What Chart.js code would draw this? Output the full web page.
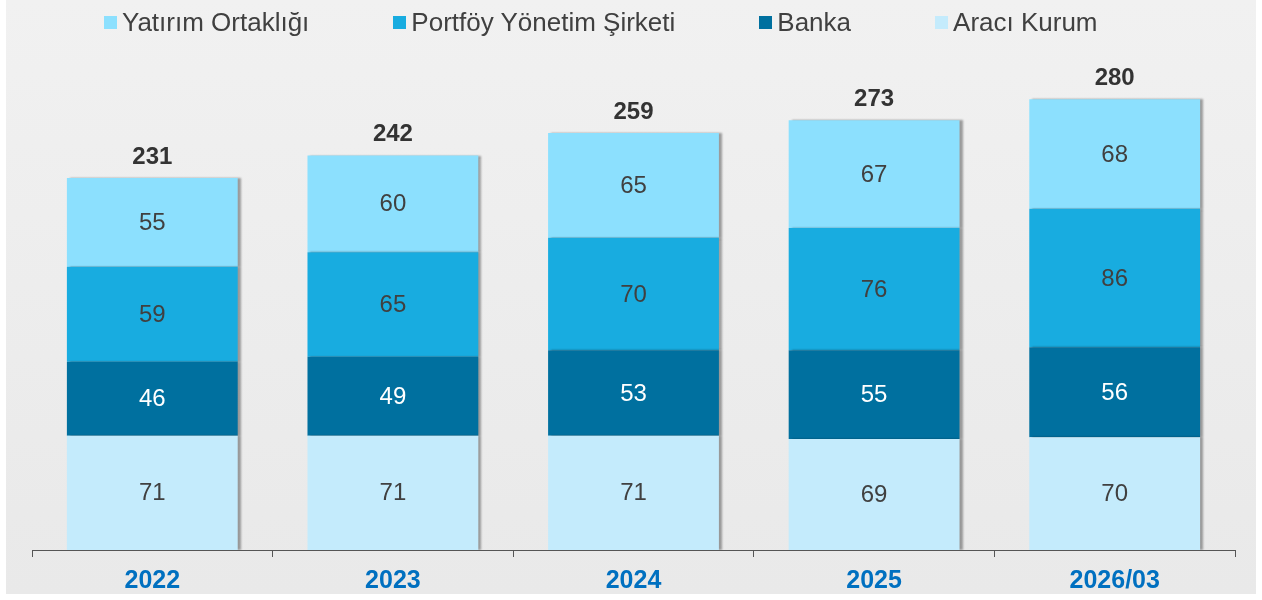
<!DOCTYPE html>
<html>
<head>
<meta charset="utf-8">
<script src="https://cdn.jsdelivr.net/npm/chart.js@4/dist/chart.umd.min.js"></script>
<style>
  html, body { margin: 0; padding: 0; background: #ffffff; }
  #wrap { position: relative; width: 1262px; height: 600px; overflow: hidden; }
  #bg { position: absolute; left: 6px; top: 0; width: 1250px; height: 594px;
        background: linear-gradient(180deg, #f1f1f1 0%, #ececec 60%, #e9e9e9 100%); }
  #chartBox { position: absolute; left: 0; top: 0; width: 1262px; height: 600px; }
  #legend { position: absolute; left: 104px; top: 6px; display: flex; align-items: center; gap: 84px;
            font-family: "Liberation Sans", Arial, sans-serif; font-size: 26px; color: #404040; line-height: 32px; }
  .item { display: flex; align-items: center; white-space: nowrap; }
  .box { width: 13px; height: 13px; margin-right: 5px; display: inline-block; }
</style>
</head>
<body>
<div id="wrap">
  <div id="bg"></div>
  <div id="chartBox"><canvas id="c"></canvas></div>
  <div id="legend"></div>
</div>
<script>
// ---- data ----
const categories = ["2022", "2023", "2024", "2025", "2026/03"];
const araciKurum = [71, 71, 71, 69, 70];
const banka = [46, 49, 53, 55, 56];
const portfoy = [59, 65, 70, 76, 86];
const yatirim = [55, 60, 65, 67, 68];
const totals = [231, 242, 259, 273, 280];
const seriesNames = ["Aracı Kurum", "Banka", "Portföy Yönetim Şirketi", "Yatırım Ortaklığı"];
const seriesColors = ["#c4ebfc", "#00709f", "#18ace0", "#8ce0fe"];
const labelColors = ["#404040", "#ffffff", "#404040", "#404040"];

const FONT = '"Liberation Sans", Arial, sans-serif';

const shadowPlugin = {
  id: 'barShadow',
  beforeDatasetsDraw(chart) {
    const ctx = chart.ctx;
    ctx.save();
    ctx.shadowColor = 'rgba(0,0,0,0.35)';
    ctx.shadowOffsetX = 3;
    ctx.shadowOffsetY = 0;
    ctx.shadowBlur = 2;
  },
  afterDatasetsDraw(chart) {
    chart.ctx.restore();
  }
};

const labelPlugin = {
  id: 'valueLabels',
  afterDatasetsDraw(chart) {
    const ctx = chart.ctx;
    ctx.save();
    ctx.textAlign = 'center';
    ctx.textBaseline = 'middle';
    ctx.font = '24px ' + FONT;
    chart.data.datasets.forEach((ds, i) => {
      const meta = chart.getDatasetMeta(i);
      ctx.fillStyle = labelColors[i];
      meta.data.forEach((bar, j) => {
        const p = bar.getProps(['x', 'y', 'base'], true);
        ctx.fillText(String(ds.data[j]), p.x, (p.y + p.base) / 2 + 1);
      });
    });
    const topMeta = chart.getDatasetMeta(chart.data.datasets.length - 1);
    ctx.font = 'bold 24px ' + FONT;
    ctx.fillStyle = '#333333';
    topMeta.data.forEach((bar, j) => {
      const p = bar.getProps(['x', 'y'], true);
      ctx.fillText(String(totals[j]), p.x, p.y - 21);
    });
    ctx.restore();
  }
};

const datasets = [araciKurum, banka, portfoy, yatirim].map((d, i) => ({
  label: seriesNames[i],
  data: d,
  backgroundColor: seriesColors[i],
  borderWidth: 0,
  barPercentage: 0.71,
  categoryPercentage: 1.0
}));

const chart = new Chart(document.getElementById('c'), {
  type: 'bar',
  data: { labels: categories, datasets },
  options: {
    responsive: true,
    maintainAspectRatio: false,
    animation: false,
    layout: { padding: { left: 32, right: 27, top: 67, bottom: 0 } },
    plugins: {
      legend: { display: false },
      tooltip: { enabled: false }
    },
    scales: {
      x: {
        stacked: true,
        offset: true,
        afterFit(scale) { scale.height = 50; },
        grid: { display: true, offset: true, drawOnChartArea: false, drawTicks: true, tickLength: 7, color: '#555555', lineWidth: 1 },
        border: { display: true, color: '#555555', width: 1 },
        ticks: { color: '#0070c0', font: { family: FONT, size: 25, weight: 'bold' }, padding: 9 }
      },
      y: {
        stacked: true,
        display: false,
        min: 0,
        max: 300
      }
    }
  },
  plugins: [shadowPlugin, labelPlugin]
});

// HTML legend built from the chart's datasets (reverse order, top of stack first)
const legendEl = document.getElementById('legend');
chart.data.datasets.slice().reverse().forEach(ds => {
  const item = document.createElement('div');
  item.className = 'item';
  const box = document.createElement('span');
  box.className = 'box';
  box.style.background = ds.backgroundColor;
  const txt = document.createElement('span');
  txt.textContent = ds.label;
  item.appendChild(box);
  item.appendChild(txt);
  legendEl.appendChild(item);
});
</script>
</body>
</html>
